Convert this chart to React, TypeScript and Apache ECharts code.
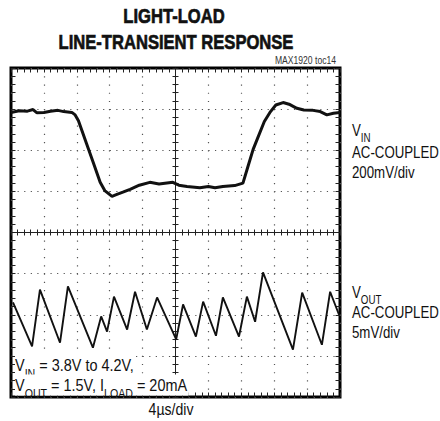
import React, { useEffect, useRef } from 'react';
import * as echarts from 'echarts';

// Time in screen divisions (0..10), level in vertical divisions (-4..4)
const vinTime = [0, 0.25, 0.5, 0.67, 0.79, 1.0, 1.2, 1.43, 1.6, 1.85, 1.95, 2.05, 2.3, 2.5, 2.71, 2.85, 3.07, 3.2, 3.4, 3.62, 3.9, 4.22, 4.5, 4.92, 5.1, 5.35, 5.74, 6.0, 6.2, 6.44, 6.8, 7.05, 7.2, 7.36, 7.5, 7.7, 7.87, 8.05, 8.27, 8.45, 8.69, 8.9, 9.18, 9.4, 9.6, 9.8, 10];
const vinLevel = [2.92, 2.96, 2.95, 2.99, 2.91, 2.92, 2.95, 2.97, 2.94, 2.92, 2.86, 2.72, 2.15, 1.7, 1.22, 1.02, 0.88, 0.92, 0.98, 1.05, 1.15, 1.22, 1.18, 1.22, 1.15, 1.12, 1.09, 1.12, 1.09, 1.12, 1.14, 1.2, 1.6, 2.02, 2.3, 2.7, 2.92, 3.1, 3.16, 3.12, 3.02, 2.98, 2.97, 2.94, 2.86, 2.9, 2.92];

const voutTime = [0.06, 0.64, 0.88, 1.49, 1.73, 2.49, 2.74, 2.92, 3.13, 3.53, 3.77, 4.13, 4.44, 5.02, 5.23, 5.62, 5.84, 6.23, 6.44, 6.93, 7.17, 7.42, 7.66, 8.57, 8.85, 9.45, 9.7, 9.97];
const voutLevel = [-1.7, -2.77, -1.39, -2.68, -1.31, -2.8, -2.04, -2.41, -1.56, -2.36, -1.44, -2.36, -1.58, -2.6, -1.75, -2.53, -1.68, -2.51, -1.58, -2.53, -1.56, -2.17, -0.97, -2.85, -1.46, -2.73, -1.44, -2.0];

const titleLines = ['LIGHT-LOAD', 'LINE-TRANSIENT RESPONSE'];
const figureId = 'MAX1920 toc14';
const vinLabel = ['AC-COUPLED', '200mV/div'];
const voutLabel = ['AC-COUPLED', '5mV/div'];
const timeBase = '4µs/div';

const FONT = '"Liberation Sans", Arial, Helvetica, sans-serif';

const toPairs = (t: number[], v: number[]) => t.map((x, i) => [x - 5, v[i]]);

function tickAxis(position: string, onZero: boolean, inside: boolean, dim: 'x' | 'y', showLine: boolean, split: boolean) {
  const minMax = dim === 'x' ? { min: -5, max: 5 } : { min: -4, max: 4 };
  return {
    type: 'value',
    ...minMax,
    interval: 1,
    position,
    axisLine: onZero
      ? { show: showLine, onZero: true, onZeroAxisIndex: 0, lineStyle: { color: '#222', width: 1 } }
      : { show: false, onZero: false },
    axisTick: { show: true, inside, length: onZero ? 3 : 4.5, lineStyle: { color: '#222', width: 1 } },
    minorTick: { show: true, splitNumber: 5, length: onZero ? 3 : 4.5, lineStyle: { color: '#222', width: 1 } },
    axisLabel: { show: false },
    splitLine: split
      ? { show: true, lineStyle: { color: '#555', width: 1.2, type: dim === 'x' ? [1.2, 7.02] : [1.2, 5.38] } }
      : { show: false },
  };
}

export default function App() {
  const ref = useRef<HTMLDivElement>(null);
  useEffect(() => {
    const chart = echarts.init(ref.current!, null, { renderer: 'svg' });
    const txt = (x: number, y: number, text: string, size: number, sx: number, align = 'left', extra: any = {}) => ({
      type: 'text',
      x,
      y,
      scaleX: sx,
      z: 100,
      style: {
        text,
        fontSize: size,
        fontFamily: FONT,
        fill: '#111',
        textAlign: align,
        textVerticalAlign: 'middle',
        ...extra,
      },
    });
    const richStyles = (size: number, subSize: number) => ({
      m: { fontSize: size, fontFamily: FONT, fill: '#111', lineHeight: size + 4 },
      s: { fontSize: subSize, fontFamily: FONT, fill: '#111', verticalAlign: 'bottom', lineHeight: subSize, padding: [0, 0, -4, 0] },
    });
    const richText = (x: number, y: number, text: string, size: number, subSize: number, sx: number, extra: any = {}) => ({
      type: 'text',
      x,
      y,
      scaleX: sx,
      z: 100,
      style: {
        text,
        fontFamily: FONT,
        fill: '#111',
        textVerticalAlign: 'middle',
        rich: richStyles(size, subSize),
        ...extra,
      },
    });
    const option: any = {
      animation: false,
      backgroundColor: '#fff',
      grid: { left: 11, top: 68, width: 329, height: 329, show: true, borderColor: '#000', borderWidth: 3, backgroundColor: '#fff' },
      xAxis: [
        tickAxis('bottom', true, false, 'x', true, true),
        tickAxis('bottom', true, true, 'x', false, false),
        tickAxis('top', false, true, 'x', false, false),
        tickAxis('bottom', false, true, 'x', false, false),
      ],
      yAxis: [
        tickAxis('left', true, false, 'y', true, true),
        tickAxis('left', true, true, 'y', false, false),
        tickAxis('left', false, true, 'y', false, false),
        tickAxis('right', false, true, 'y', false, false),
      ],
      series: [
        {
          type: 'line',
          name: 'VIN',
          xAxisIndex: 0,
          yAxisIndex: 0,
          data: toPairs(vinTime, vinLevel),
          showSymbol: false,
          lineStyle: { color: '#111', width: 3 },
          z: 10,
        },
        {
          type: 'line',
          name: 'VOUT',
          xAxisIndex: 0,
          yAxisIndex: 0,
          data: toPairs(voutTime, voutLevel),
          showSymbol: false,
          lineStyle: { color: '#111', width: 1.9 },
          z: 10,
        },
      ],
      graphic: [
        txt(174, 16, titleLines[0], 21, 0.79, 'center', { fontWeight: 'bold', stroke: '#111', lineWidth: 0.7 }),
        txt(176, 42, titleLines[1], 21, 0.79, 'center', { fontWeight: 'bold', stroke: '#111', lineWidth: 0.7 }),
        txt(336, 61, figureId, 10, 0.86, 'right', { fill: '#333' }),
        richText(352, 130, '{m|V}{s|IN}', 17, 12.5, 0.78),
        txt(352, 152, vinLabel[0], 17, 0.78),
        txt(352, 172, vinLabel[1], 17, 0.78),
        richText(352, 292, '{m|V}{s|OUT}', 17, 12.5, 0.78),
        txt(352, 312, voutLabel[0], 17, 0.78),
        txt(352, 332, voutLabel[1], 17, 0.78),
        richText(15, 365, '{m|V}{s|IN}{m| = 3.8V to 4.2V,}', 17, 12.5, 0.85, { backgroundColor: '#fff', padding: [1, 2, 0, 0] }),
        richText(15, 385, '{m|V}{s|OUT}{m| = 1.5V, I}{s|LOAD}{m| = 20mA}', 17, 12.5, 0.85, { backgroundColor: '#fff', padding: [0, 2, 0, 0] }),
        txt(171, 409, timeBase, 16, 0.88, 'center'),
      ],
    };
    chart.setOption(option);
    return () => chart.dispose();
  }, []);
  return <div ref={ref} style={{ position: 'fixed', left: 0, top: 0, width: 440, height: 421 }} />;
}
